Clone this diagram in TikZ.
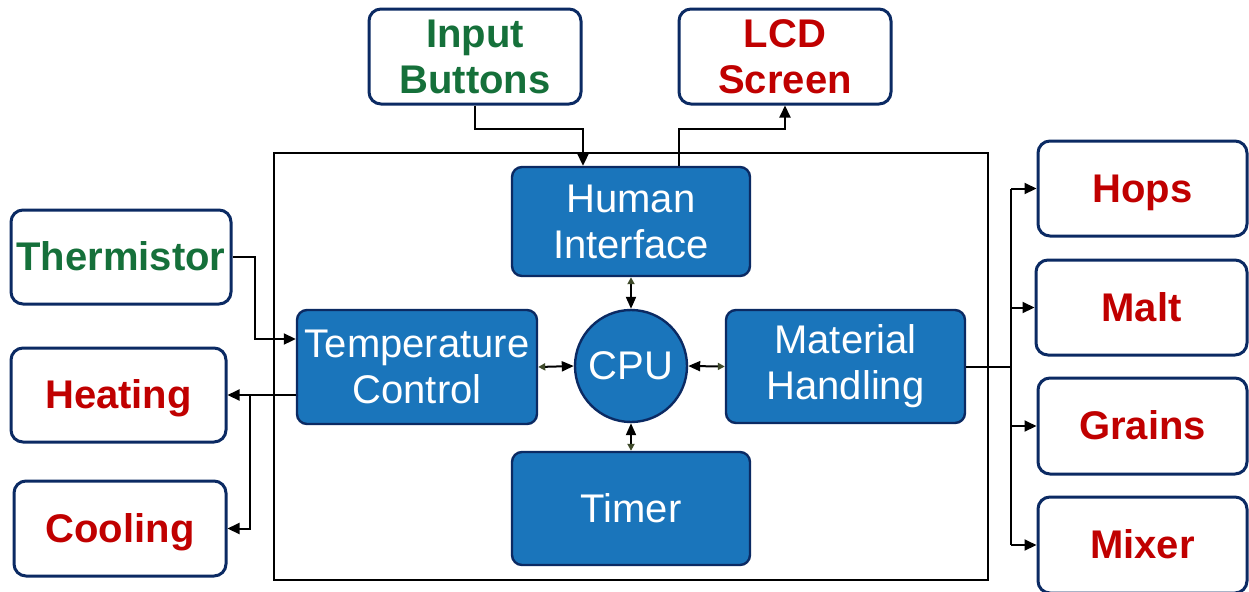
\documentclass[tikz,border=0pt]{standalone}
\usepackage{fontspec}
\setmainfont{Liberation Sans}
\usetikzlibrary{arrows.meta}
\definecolor{navy}{HTML}{0B2A63}
\definecolor{blubox}{HTML}{1A75BB}
\definecolor{grn}{HTML}{15703A}
\definecolor{rd}{HTML}{C00000}
\definecolor{oliv}{HTML}{3F4A2A}
\tikzset{
  ext/.style={draw=navy, line width=1.5pt, rounded corners=6pt, fill=white, inner sep=0pt, align=center,
    font=\fontsize{20}{23}\selectfont\bfseries},
  intb/.style={draw=navy, line width=1.2pt, rounded corners=5pt, fill=blubox, text=white, inner sep=0pt, align=center,
    font=\fontsize{20}{23}\selectfont},
  oneline/.style={text height=18.1pt, text depth=4.2pt},
  arr/.style={line width=1pt, -{Triangle[length=6pt,width=5.5pt]}},
  conn/.style={line width=1pt},
  darr/.style={line width=1pt, {Triangle[length=3.5pt,width=3.5pt,color=oliv]}-{Triangle[length=6pt,width=5pt]}}
}
\begin{document}
\begin{tikzpicture}[x=0.5pt,y=-0.5pt]
\useasboundingbox (0,0) rectangle (1249,591);
\clip (0,0) rectangle (1249,591);
\fill[white] (0,0) rectangle (1249,591);
% outer frame
\draw[line width=1pt] (274,153) rectangle (988,580);
% inner blocks
\node[intb, minimum width=119pt, minimum height=54.5pt] (hi) at (631,221.5) {Human\\Interface};
\node[intb, minimum width=120pt, minimum height=57pt] (tc) at (417,367) {Temperature\\Control};
\node[intb, minimum width=119.5pt, minimum height=56.5pt] (mh) at (845.5,366.5) {Material\\Handling};
\node[intb, oneline, minimum width=119pt, minimum height=56.5pt] (tm) at (631,508.5) {Timer};
\node[intb, circle, rounded corners=0pt, minimum size=56pt] (cpu) at (631,366) {CPU};
% external blocks
\node[ext, text=grn, minimum width=106pt, minimum height=47.5pt] (inb) at (475,56.5) {Input\\Buttons};
\node[ext, text=rd, minimum width=106pt, minimum height=47.5pt] (lcd) at (785,56.5) {LCD\\Screen};
\node[ext, oneline, text=grn, minimum width=110pt, minimum height=47pt] (th) at (121,257) {Thermistor};
\node[ext, oneline, text=rd, minimum width=107.5pt, minimum height=47pt] (heat) at (118.5,395) {Heating};
\node[ext, oneline, text=rd, minimum width=106pt, minimum height=47.5pt] (cool) at (120,528.5) {Cooling};
\node[ext, oneline, text=rd, minimum width=104.5pt, minimum height=47.5pt] (hops) at (1142.5,188.5) {Hops};
\node[ext, oneline, text=rd, minimum width=105.5pt, minimum height=47.5pt] (malt) at (1141.5,307.5) {Malt};
\node[ext, oneline, text=rd, minimum width=104.5pt, minimum height=48pt] (grains) at (1142.5,426) {Grains};
\node[ext, oneline, text=rd, minimum width=104.5pt, minimum height=48pt] (mix) at (1142.5,545) {Mixer};
% connectors top
\draw[arr] (inb.south) -- ++(0,23) -| ([xshift=-24pt]hi.north);
\draw[arr] ([xshift=24pt]hi.north) -- ++(0,-37) -| (lcd.south);
% left side
\draw[arr] (th.east) -- ++(22,0) |- ([yshift=14pt]tc.west);
\draw[arr] ([yshift=-14pt]tc.west) -- (heat.east);
\coordinate (hb) at ([xshift=11pt]heat.east);
\draw[arr] (hb) |- (cool.east);
% right side
\coordinate (mb) at ([xshift=22.5pt]mh.east);
\draw[conn] (mh.east) -- (mb);
\draw[conn] (mb |- hops.west) -- (mb |- mix.west);
\draw[arr] (mb |- hops.west) -- (hops.west);
\draw[arr] (mb |- malt.west) -- (malt.west);
\draw[arr] (mb |- grains.west) -- (grains.west);
\draw[arr] (mb |- mix.west) -- (mix.west);
% CPU links
\draw[darr] (hi.south) -- (cpu.north);
\draw[darr] (tm.north) -- (cpu.south);
\draw[darr] (tc.east) -- (cpu.west);
\draw[darr] (mh.west) -- (cpu.east);
\end{tikzpicture}
\end{document}
